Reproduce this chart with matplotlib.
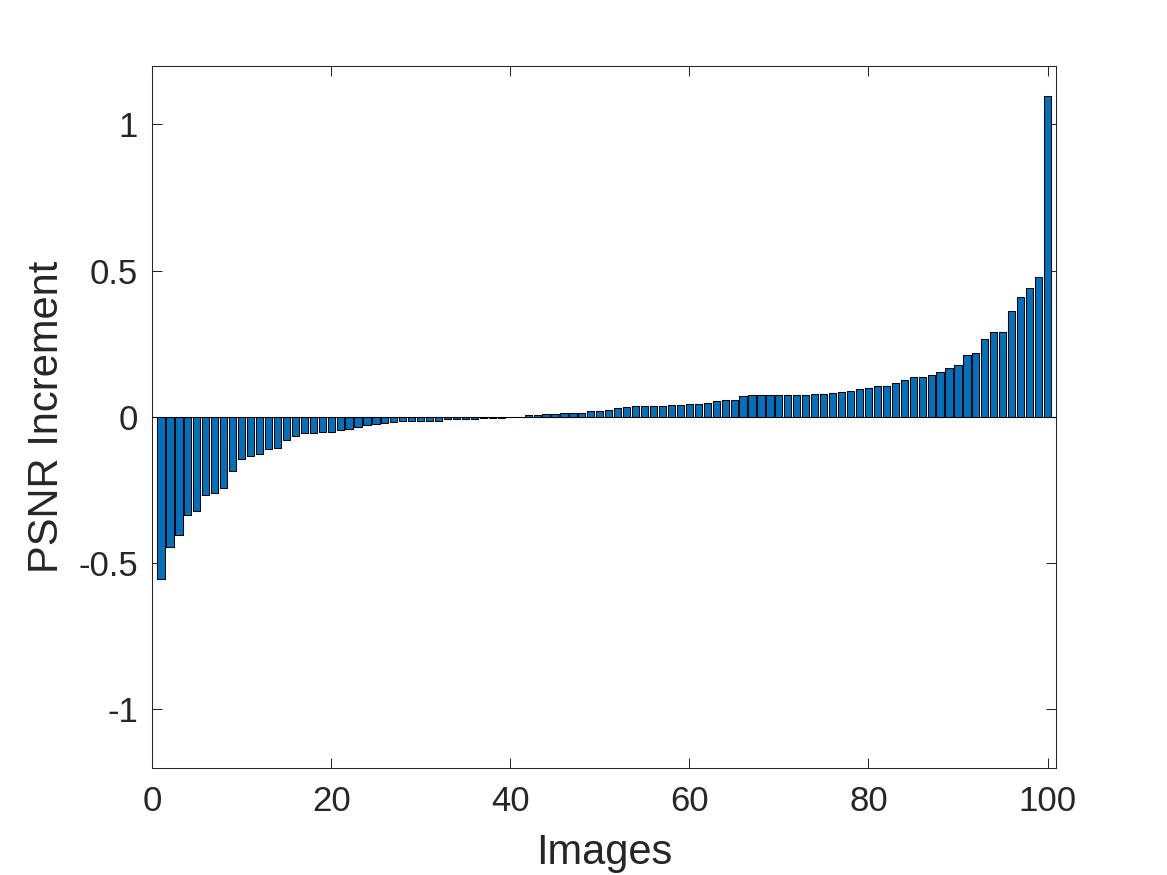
import numpy as np
import matplotlib
matplotlib.use("Agg")
import matplotlib.pyplot as plt

plt.rcParams['font.family'] = ['Liberation Sans', 'DejaVu Sans']

#datos: incremento de PSNR por imagen (ordenado)
psnr_neg = [-0.553, -0.445, -0.403, -0.334, -0.323, -0.268, -0.259, -0.242, -0.184, -0.145,
            -0.135, -0.128, -0.108, -0.107, -0.077, -0.066, -0.056, -0.056, -0.052, -0.050,
            -0.046, -0.040, -0.035, -0.026, -0.023, -0.019, -0.017, -0.015, -0.015, -0.015,
            -0.014, -0.014, -0.008, -0.008, -0.008, -0.006, -0.005, -0.003, -0.002, -0.001]
psnr_pos = [0.001, 0.008, 0.008, 0.011, 0.011, 0.012, 0.013, 0.015, 0.020, 0.020,
            0.024, 0.032, 0.034, 0.036, 0.036, 0.037, 0.038, 0.041, 0.041, 0.043,
            0.044, 0.047, 0.053, 0.058, 0.058, 0.071, 0.074, 0.074, 0.075, 0.075,
            0.076, 0.076, 0.076, 0.079, 0.080, 0.081, 0.087, 0.089, 0.097, 0.100,
            0.105, 0.107, 0.116, 0.127, 0.138, 0.138, 0.145, 0.155, 0.168, 0.179,
            0.211, 0.220, 0.266, 0.291, 0.292, 0.364, 0.411, 0.440, 0.478, 1.099]
psnr = np.array(psnr_neg + psnr_pos)
imagenes = np.arange(1, len(psnr) + 1)

xticks = [0, 20, 40, 60, 80, 100]
yticks = [-1, -0.5, 0, 0.5, 1]

gris = '#262626'

fig = plt.figure(figsize=(11.67, 8.75), dpi=100)
ax = fig.add_axes([0.1303, 0.1223, 0.7750, 0.8023])

ax.bar(imagenes, psnr, width=0.8, color='#0072BD', edgecolor='black', linewidth=0.75, zorder=2)
ax.axhline(0, color='black', linewidth=0.75, zorder=3)

ax.set_xlim(0, 101)
ax.set_ylim(-1.2, 1.2)
ax.set_xticks(xticks)
ax.set_yticks(yticks)
ax.set_yticklabels(['-1', '-0.5', '0', '0.5', '1'])

ax.tick_params(direction='in', length=7, width=0.75, colors=gris, labelsize=25,
               top=True, right=True, pad=10)
ax.tick_params(axis='x', pad=12)
for s in ax.spines.values():
    s.set_color(gris)
    s.set_linewidth(0.75)

ax.set_xlabel("Images", fontsize=30, color=gris, labelpad=11)
ax.set_ylabel("PSNR Increment", fontsize=30, color=gris, labelpad=8)

plt.savefig('out.png', dpi=100)
